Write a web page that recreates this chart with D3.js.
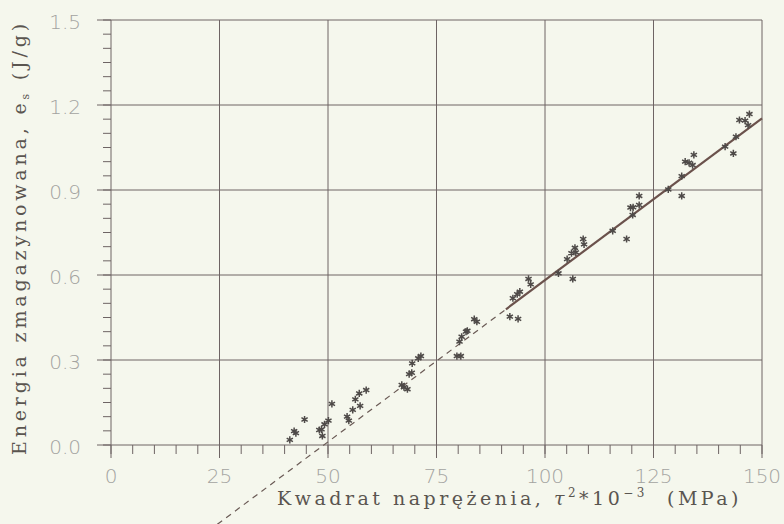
<!DOCTYPE html>
<html>
<head>
<meta charset="utf-8">
<script src="https://cdn.jsdelivr.net/npm/d3@7/dist/d3.min.js"></script>
<style>
  html, body { margin: 0; padding: 0; background: #f5f7ed; }
  svg { display: block; }
</style>
</head>
<body>
<svg id="chart" width="784" height="524"></svg>
<script>
// ---- data ----
const pointX = [41.2, 42.2, 42.6, 44.6, 48.0, 48.5, 48.7, 49.2, 50.1, 50.9, 54.4, 54.8, 55.7, 56.3, 57.4, 57.2, 58.8,
                67.0, 67.5, 68.3, 68.7, 69.3, 69.4, 70.8, 71.4, 79.7, 80.6, 80.3, 80.8, 81.8, 82.1, 83.7, 84.3,
                91.9, 93.8, 92.6, 93.6, 94.2, 96.2, 96.7,
                103.1, 106.4, 105.1, 106.1, 106.9, 107.1, 108.8, 109.0,
                115.6, 118.8, 120.2, 119.7, 120.3, 121.7, 121.7,
                128.4, 131.5, 131.5, 132.3, 133.2, 134.3, 134.0, 141.5, 143.4, 144.0, 144.8, 146.1, 147.1, 146.8];
const pointY = [0.018, 0.049, 0.042, 0.090, 0.053, 0.055, 0.032, 0.073, 0.086, 0.145, 0.100, 0.086, 0.124, 0.161, 0.138, 0.182, 0.194,
                0.212, 0.204, 0.197, 0.250, 0.255, 0.288, 0.306, 0.314, 0.314, 0.314, 0.365, 0.382, 0.400, 0.403, 0.444, 0.435,
                0.453, 0.445, 0.518, 0.532, 0.541, 0.586, 0.567,
                0.606, 0.586, 0.656, 0.677, 0.696, 0.680, 0.727, 0.708,
                0.756, 0.727, 0.812, 0.838, 0.839, 0.847, 0.879,
                0.902, 0.879, 0.949, 1.000, 0.996, 1.024, 0.988, 1.053, 1.029, 1.088, 1.147, 1.145, 1.168, 1.129];
const fitSolidX = [91, 150];
const fitSolidY = [0.479, 1.153];
const fitDashedX = [24.5, 91];
const fitDashedY = [-0.28, 0.479];
const xTicks = [0, 25, 50, 75, 100, 125, 150];
const yTicks = [0.0, 0.3, 0.6, 0.9, 1.2, 1.5];
const xMinor = d3.range(0, 151, 5);
const yMinor = d3.range(0, 1.501, 0.05);
const xTitle = "Kwadrat naprężenia,";
const yTitle = "Energia zmagazynowana, e";

// ---- layout ----
const svg = d3.select("#chart");
const W = 784, H = 524;
const x = d3.scaleLinear().domain([0, 150]).range([111, 762]);
const y = d3.scaleLinear().domain([0, 1.5]).range([445, 20]);

const gridCol = "#6e6464";
const tickLabelCol = "#a3a3a0";
const titleCol = "#5a5550";

svg.append("rect").attr("width", W).attr("height", H).attr("fill", "#f5f7ed");

// minor ticks x (below axis)
svg.append("g").selectAll("line").data(xMinor).join("line")
  .attr("x1", d => x(d)).attr("x2", d => x(d))
  .attr("y1", y(0)).attr("y2", y(0) + 9)
  .attr("stroke", gridCol).attr("stroke-width", 1);

// minor ticks y (left of axis)
svg.append("g").selectAll("line").data(yMinor).join("line")
  .attr("x1", x(0) - 8).attr("x2", x(0))
  .attr("y1", d => y(d)).attr("y2", d => y(d))
  .attr("stroke", gridCol).attr("stroke-width", 1);

// vertical grid + major ticks
svg.append("g").selectAll("line").data(xTicks).join("line")
  .attr("x1", d => x(d)).attr("x2", d => x(d))
  .attr("y1", y(1.5)).attr("y2", y(0) + 13)
  .attr("stroke", gridCol).attr("stroke-width", 1);

// horizontal grid + major ticks
svg.append("g").selectAll("line").data(yTicks).join("line")
  .attr("x1", x(0) - 14).attr("x2", x(150))
  .attr("y1", d => y(d)).attr("y2", d => y(d))
  .attr("stroke", gridCol).attr("stroke-width", 1);

// tick labels
svg.append("g").selectAll("text").data(xTicks).join("text")
  .attr("x", d => x(d)).attr("y", y(0) + 38)
  .attr("text-anchor", "middle")
  .attr("font-family", "DejaVu Sans, sans-serif")
  .attr("font-weight", 200)
  .attr("font-size", 20)
  .attr("fill", tickLabelCol)
  .text(d => d3.format("d")(d));

svg.append("g").selectAll("text").data(yTicks).join("text")
  .attr("x", 81).attr("y", d => y(d) + 9)
  .attr("text-anchor", "end")
  .attr("font-family", "DejaVu Sans, sans-serif")
  .attr("font-weight", 200)
  .attr("font-size", 20)
  .attr("fill", tickLabelCol)
  .text(d => d3.format(".1f")(d));

// fit line
const line = d3.line().x(d => x(d[0])).y(d => y(d[1]));
svg.append("path")
  .attr("d", line(d3.zip(fitDashedX, fitDashedY)))
  .attr("fill", "none").attr("stroke", "#6a5a55").attr("stroke-width", 1.2)
  .attr("stroke-dasharray", "6,5");
svg.append("path")
  .attr("d", line(d3.zip(fitSolidX, fitSolidY)))
  .attr("fill", "none").attr("stroke", "#6b524c").attr("stroke-width", 2.2);

// points
const sym = d3.symbol().type(d3.symbolAsterisk).size(36);
svg.append("g").selectAll("path").data(d3.zip(pointX, pointY)).join("path")
  .attr("transform", d => `translate(${x(d[0])},${y(d[1])})`)
  .attr("d", sym)
  .attr("fill", "none")
  .attr("stroke", "#4e4a48").attr("stroke-width", 1.5);

// fit a text element to a target length by adjusting letter spacing
function fitText(t, target) {
  const n = t.text().length;
  const len = t.node().getComputedTextLength();
  t.attr("letter-spacing", Math.max(0, (target - len) / n));
}

// x title
const xt = svg.append("text")
  .attr("x", 277).attr("y", 505)
  .attr("font-family", "DejaVu Serif, Liberation Serif, serif")
  .attr("font-size", 19)
  .attr("fill", titleCol)
  .style("white-space", "pre");
xt.append("tspan").text(xTitle + " ");
xt.append("tspan").attr("font-style", "italic").text("τ");
xt.append("tspan").attr("font-size", 12).attr("dy", -8).text("2");
xt.append("tspan").attr("dy", 8).text("*10");
xt.append("tspan").attr("font-size", 12).attr("dy", -8).text("−3");
xt.append("tspan").attr("dy", 8).text("  (MPa)");
fitText(xt, 465);

// y title
const yt = svg.append("text")
  .attr("transform", "translate(26,455) rotate(-90)")
  .attr("font-family", "DejaVu Serif, Liberation Serif, serif")
  .attr("font-size", 19)
  .attr("fill", titleCol)
  .style("white-space", "pre");
yt.append("tspan").text(yTitle);
yt.append("tspan").attr("font-size", 11).attr("dy", 3).text("s");
yt.append("tspan").attr("dy", -3).text(" (J/g)");
fitText(yt, 435);
</script>
</body>
</html>
